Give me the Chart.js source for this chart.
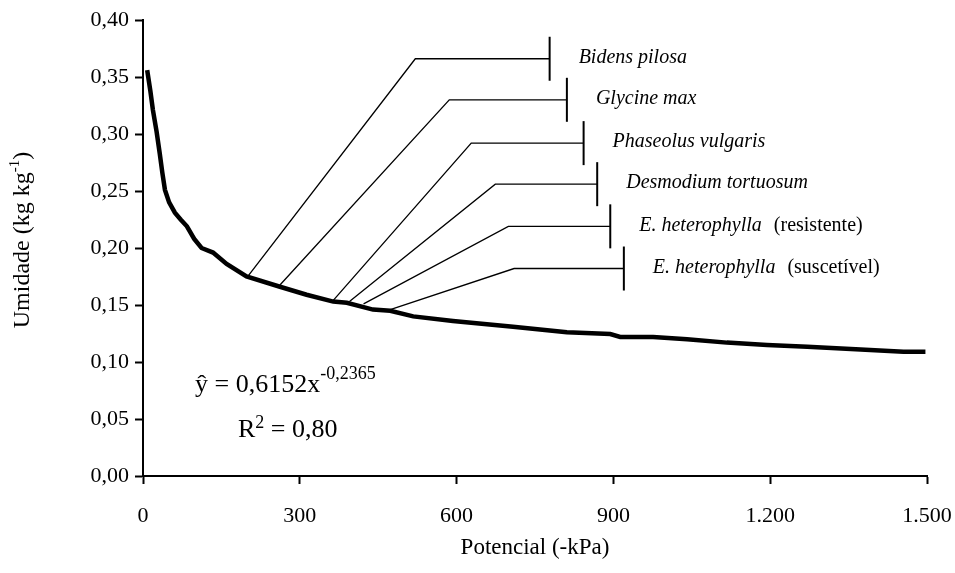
<!DOCTYPE html>
<html>
<head>
<meta charset="utf-8">
<script src="https://cdn.jsdelivr.net/npm/chart.js@4.4.1/dist/chart.umd.min.js"></script>
<style>
    html, body { margin: 0; padding: 0; background: #fff; }
    #wrap { width: 955px; height: 573px; position: relative; }
</style>
</head>
<body>
<div id="wrap"><canvas id="umidadeChart"></canvas></div>
<script>
// values
var potencial = [8, 14, 19, 26, 32, 37, 42, 50, 61, 72, 84, 98, 112, 134, 160, 198, 262, 313, 364, 390, 440, 473, 517, 593, 708, 811, 894, 913, 976, 1041, 1117, 1194, 1271, 1373, 1455, 1497];
var umidade = [0.356, 0.338, 0.321, 0.302, 0.283, 0.266, 0.251, 0.240, 0.231, 0.225, 0.219, 0.208, 0.200, 0.196, 0.186, 0.175, 0.166, 0.159, 0.153, 0.152, 0.146, 0.145, 0.140, 0.136, 0.131, 0.126, 0.1245, 0.122, 0.122, 0.120, 0.117, 0.115, 0.1134, 0.111, 0.109, 0.109];

var xTicks = [0, 300, 600, 900, 1200, 1500];
var yTicks = [0, 0.05, 0.10, 0.15, 0.20, 0.25, 0.30, 0.35, 0.40];

// species call-outs: point on the curve -> elbow -> end bar
var especies = ['Bidens pilosa', 'Glycine max', 'Phaseolus vulgaris', 'Desmodium tortuosum', 'E. heterophylla', 'E. heterophylla'];
var especiesObs = ['', '', '', '', '(resistente)', '(suscetível)'];
var curvaX = [202, 262, 364, 395, 422, 473];
var curvaY = [0.176, 0.1675, 0.154, 0.153, 0.151, 0.146];
var cotoveloX = [521, 586, 628, 674, 699, 710];
var cotoveloY = [0.366, 0.330, 0.292, 0.256, 0.219, 0.182];
var fimX = [778, 811, 843, 869, 894, 920];

var equacao = ['ŷ = 0,6152x', '-0,2365'];
var r2 = ['R', '2', ' = 0,80'];

var serif = "'Liberation Serif', 'Times New Roman', serif";

function fmtX(v) {
    var s = String(v);
    if (v >= 1000) s = s.slice(0, s.length - 3) + '.' + s.slice(-3);
    return s;
}

var pontos = [];
for (var i = 0; i < potencial.length; i++) {
    pontos.push({ x: potencial[i], y: umidade[i] });
}

// axis title, equation and species labels
var extras = {
    id: 'extras',
    afterDatasetsDraw: function (chart) {
        var ctx = chart.ctx;
        var sx = chart.scales.x, sy = chart.scales.y;
        ctx.save();
        ctx.strokeStyle = '#000';
        ctx.fillStyle = '#000';

        for (var i = 0; i < especies.length; i++) {
            var x0 = sx.getPixelForValue(curvaX[i]), y0 = sy.getPixelForValue(curvaY[i]);
            var x1 = sx.getPixelForValue(cotoveloX[i]), y1 = sy.getPixelForValue(cotoveloY[i]);
            var x2 = sx.getPixelForValue(fimX[i]);
            ctx.lineWidth = 1.3;
            ctx.beginPath();
            ctx.moveTo(x0, y0);
            ctx.lineTo(x1, y1);
            ctx.lineTo(x2, y1);
            ctx.stroke();
            ctx.lineWidth = 2;
            ctx.beginPath();
            ctx.moveTo(x2, y1 - 22);
            ctx.lineTo(x2, y1 + 22);
            ctx.stroke();

            ctx.textBaseline = 'middle';
            ctx.textAlign = 'left';
            ctx.font = 'italic 20px ' + serif;
            ctx.fillText(especies[i], x2 + 29, y1 - 1);
            if (especiesObs[i]) {
                var w = ctx.measureText(especies[i]).width;
                ctx.font = '20px ' + serif;
                ctx.fillText(especiesObs[i], x2 + 29 + w + 12, y1 - 1);
            }
        }

        // regression
        ctx.textBaseline = 'alphabetic';
        ctx.font = '26px ' + serif;
        ctx.fillText(equacao[0], 195, 392);
        var we = ctx.measureText(equacao[0]).width;
        ctx.font = '18px ' + serif;
        ctx.fillText(equacao[1], 195 + we, 379);

        ctx.font = '26px ' + serif;
        ctx.fillText(r2[0], 238, 437);
        var wr = ctx.measureText(r2[0]).width;
        ctx.font = '18px ' + serif;
        ctx.fillText(r2[1], 238 + wr, 428);
        var w2 = ctx.measureText(r2[1]).width;
        ctx.font = '26px ' + serif;
        ctx.fillText(r2[2], 238 + wr + w2, 437);

        // y title with superscript
        ctx.translate(23, 240);
        ctx.rotate(-Math.PI / 2);
        ctx.font = '24px ' + serif;
        var t1 = 'Umidade (kg kg', t2 = '-1', t3 = ')';
        var a = ctx.measureText(t1).width;
        ctx.font = '15px ' + serif;
        var b = ctx.measureText(t2).width;
        ctx.font = '24px ' + serif;
        var c = ctx.measureText(t3).width;
        var start = -(a + b + c) / 2;
        ctx.textBaseline = 'middle';
        ctx.fillText(t1, start, 0);
        ctx.font = '15px ' + serif;
        ctx.fillText(t2, start + a, -8);
        ctx.font = '24px ' + serif;
        ctx.fillText(t3, start + a + b, 0);
        ctx.restore();
    }
};

var chart = new Chart(document.getElementById('umidadeChart'), {
    type: 'scatter',
    data: {
        datasets: [{
            label: 'Umidade',
            data: pontos,
            showLine: true,
            borderColor: '#000',
            backgroundColor: '#000',
            borderWidth: 4.5,
            pointRadius: 0,
            tension: 0
        }]
    },
    options: {
        responsive: true,
        maintainAspectRatio: false,
        animation: false,
        layout: { padding: { top: 20, right: 28, bottom: 0, left: 0 } },
        plugins: {
            legend: { display: false },
            tooltip: { enabled: false }
        },
        scales: {
            x: {
                type: 'linear',
                min: 0,
                max: 1500,
                afterBuildTicks: function (scale) {
                    scale.ticks = xTicks.map(function (v) { return { value: v }; });
                },
                afterFit: function (scale) {
                    scale.height = 97;
                    scale.paddingLeft = 0;
                    scale.paddingRight = 0;
                },
                ticks: {
                    color: '#000',
                    padding: 19,
                    maxRotation: 0,
                    font: { family: serif, size: 22 },
                    callback: function (v) { return fmtX(v); }
                },
                grid: { display: true, drawOnChartArea: false, drawTicks: true, tickLength: 8, tickWidth: 2, color: '#000' },
                border: { display: true, color: '#000', width: 2 },
                title: {
                    display: true,
                    text: 'Potencial (-kPa)',
                    color: '#000',
                    font: { family: serif, size: 23 },
                    padding: { top: 0, bottom: 11 }
                }
            },
            y: {
                type: 'linear',
                min: 0,
                max: 0.4,
                afterBuildTicks: function (scale) {
                    scale.ticks = yTicks.map(function (v) { return { value: v }; });
                },
                afterFit: function (scale) {
                    scale.width = 143;
                    scale.paddingTop = 0;
                    scale.paddingBottom = 0;
                },
                ticks: {
                    color: '#000',
                    padding: 6,
                    font: { family: serif, size: 22 },
                    callback: function (v) { return v.toFixed(2).replace('.', ','); }
                },
                grid: { display: true, drawOnChartArea: false, drawTicks: true, tickLength: 8, tickWidth: 2, color: '#000' },
                border: { display: true, color: '#000', width: 2 }
            }
        }
    },
    plugins: [extras]
});
</script>
</body>
</html>
